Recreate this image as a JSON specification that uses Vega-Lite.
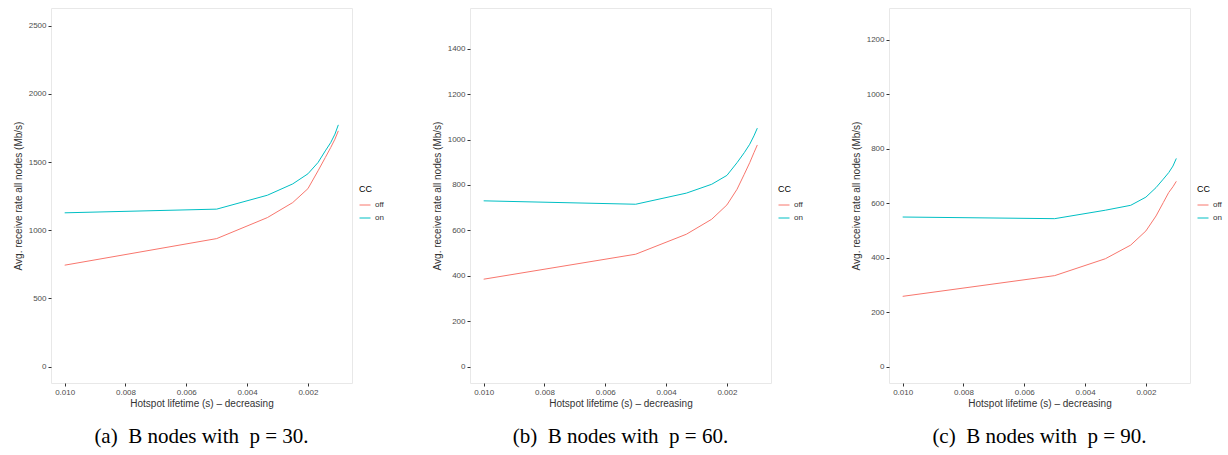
{
  "$schema": "https://vega.github.io/schema/vega-lite/v6.json",
  "background": "white",
  "padding": {"left": 12, "top": 7, "right": 0, "bottom": 0},
  "datasets": {
    "d": [
      {"panel": "a", "cc": "off", "lifetime": 0.01, "rate": 744},
      {"panel": "a", "cc": "off", "lifetime": 0.005, "rate": 939},
      {"panel": "a", "cc": "off", "lifetime": 0.003333, "rate": 1093},
      {"panel": "a", "cc": "off", "lifetime": 0.0025, "rate": 1203},
      {"panel": "a", "cc": "off", "lifetime": 0.002, "rate": 1305},
      {"panel": "a", "cc": "off", "lifetime": 0.001667, "rate": 1436},
      {"panel": "a", "cc": "off", "lifetime": 0.001429, "rate": 1533},
      {"panel": "a", "cc": "off", "lifetime": 0.00125, "rate": 1607},
      {"panel": "a", "cc": "off", "lifetime": 0.001111, "rate": 1668},
      {"panel": "a", "cc": "off", "lifetime": 0.001, "rate": 1729},
      {"panel": "a", "cc": "on", "lifetime": 0.01, "rate": 1128},
      {"panel": "a", "cc": "on", "lifetime": 0.005, "rate": 1155},
      {"panel": "a", "cc": "on", "lifetime": 0.003333, "rate": 1257},
      {"panel": "a", "cc": "on", "lifetime": 0.0025, "rate": 1340},
      {"panel": "a", "cc": "on", "lifetime": 0.002, "rate": 1414},
      {"panel": "a", "cc": "on", "lifetime": 0.001667, "rate": 1497},
      {"panel": "a", "cc": "on", "lifetime": 0.001429, "rate": 1582},
      {"panel": "a", "cc": "on", "lifetime": 0.00125, "rate": 1643},
      {"panel": "a", "cc": "on", "lifetime": 0.001111, "rate": 1705},
      {"panel": "a", "cc": "on", "lifetime": 0.001, "rate": 1773},
      {"panel": "b", "cc": "off", "lifetime": 0.01, "rate": 385},
      {"panel": "b", "cc": "off", "lifetime": 0.005, "rate": 495},
      {"panel": "b", "cc": "off", "lifetime": 0.003333, "rate": 583},
      {"panel": "b", "cc": "off", "lifetime": 0.0025, "rate": 649},
      {"panel": "b", "cc": "off", "lifetime": 0.002, "rate": 712},
      {"panel": "b", "cc": "off", "lifetime": 0.001667, "rate": 781},
      {"panel": "b", "cc": "off", "lifetime": 0.001429, "rate": 847},
      {"panel": "b", "cc": "off", "lifetime": 0.00125, "rate": 898},
      {"panel": "b", "cc": "off", "lifetime": 0.001111, "rate": 942},
      {"panel": "b", "cc": "off", "lifetime": 0.001, "rate": 976},
      {"panel": "b", "cc": "on", "lifetime": 0.01, "rate": 730},
      {"panel": "b", "cc": "on", "lifetime": 0.005, "rate": 715},
      {"panel": "b", "cc": "on", "lifetime": 0.003333, "rate": 764},
      {"panel": "b", "cc": "on", "lifetime": 0.0025, "rate": 803},
      {"panel": "b", "cc": "on", "lifetime": 0.002, "rate": 842},
      {"panel": "b", "cc": "on", "lifetime": 0.001667, "rate": 898},
      {"panel": "b", "cc": "on", "lifetime": 0.001429, "rate": 942},
      {"panel": "b", "cc": "on", "lifetime": 0.00125, "rate": 979},
      {"panel": "b", "cc": "on", "lifetime": 0.001111, "rate": 1016},
      {"panel": "b", "cc": "on", "lifetime": 0.001, "rate": 1050},
      {"panel": "c", "cc": "off", "lifetime": 0.01, "rate": 258},
      {"panel": "c", "cc": "off", "lifetime": 0.005, "rate": 334},
      {"panel": "c", "cc": "off", "lifetime": 0.003333, "rate": 396},
      {"panel": "c", "cc": "off", "lifetime": 0.0025, "rate": 446},
      {"panel": "c", "cc": "off", "lifetime": 0.002, "rate": 498},
      {"panel": "c", "cc": "off", "lifetime": 0.001667, "rate": 553},
      {"panel": "c", "cc": "off", "lifetime": 0.001429, "rate": 602},
      {"panel": "c", "cc": "off", "lifetime": 0.00125, "rate": 639},
      {"panel": "c", "cc": "off", "lifetime": 0.001111, "rate": 660},
      {"panel": "c", "cc": "off", "lifetime": 0.001, "rate": 680},
      {"panel": "c", "cc": "on", "lifetime": 0.01, "rate": 549},
      {"panel": "c", "cc": "on", "lifetime": 0.005, "rate": 543},
      {"panel": "c", "cc": "on", "lifetime": 0.003333, "rate": 574},
      {"panel": "c", "cc": "on", "lifetime": 0.0025, "rate": 592},
      {"panel": "c", "cc": "on", "lifetime": 0.002, "rate": 622},
      {"panel": "c", "cc": "on", "lifetime": 0.001667, "rate": 657},
      {"panel": "c", "cc": "on", "lifetime": 0.001429, "rate": 688},
      {"panel": "c", "cc": "on", "lifetime": 0.00125, "rate": 712},
      {"panel": "c", "cc": "on", "lifetime": 0.001111, "rate": 736},
      {"panel": "c", "cc": "on", "lifetime": 0.001, "rate": 764}
    ]
  },
  "config": {
    "font": "Liberation Sans",
    "view": {"stroke": "#E8E8E8", "strokeWidth": 1},
    "axis": {
      "grid": false,
      "domain": false,
      "tickColor": "#333333",
      "tickSize": 3,
      "labelPadding": 2,
      "labelColor": "#4D4D4D",
      "labelFontSize": 8,
      "titleFontSize": 10,
      "titleFontWeight": "normal",
      "titleColor": "#333333"
    },
    "axisY": {"titlePadding": 5, "format": "d"},
    "axisX": {"titlePadding": 2},
    "legend": {
      "symbolType": "stroke",
      "symbolSize": 121,
      "symbolStrokeWidth": 1,
      "titleFontSize": 9,
      "titleFontWeight": "normal",
      "titleColor": "#000000",
      "labelFontSize": 8,
      "labelColor": "#333333",
      "labelOffset": 4,
      "rowPadding": 3
    },
    "title": {
      "orient": "bottom",
      "frame": "group",
      "anchor": "middle",
      "font": "Liberation Serif",
      "fontSize": 21,
      "fontWeight": "normal",
      "color": "#000000",
      "offset": 18
    }
  },
  "spacing": 46,
  "resolve": {"scale": {"y": "independent", "color": "independent"}, "legend": {"color": "independent"}},
  "hconcat": [
    {
      "width": 301,
      "height": 375,
      "title": "(a)\u2002B nodes with\u2002p = 30.",
      "data": {"name": "d"},
      "transform": [{"filter": "datum.panel == 'a'"}],
      "mark": {"type": "line", "strokeWidth": 1},
      "encoding": {
        "x": {"field": "lifetime", "type": "quantitative", "scale": {"domain": [0.00055, 0.01045], "reverse": true, "nice": false, "zero": false}, "axis": {"values": [0.01, 0.008, 0.006, 0.004, 0.002], "format": ".3f", "title": "Hotspot lifetime (s) – decreasing"}},
        "y": {"field": "rate", "type": "quantitative", "scale": {"domain": [-120, 2630], "nice": false, "zero": false}, "axis": {"values": [0, 500, 1000, 1500, 2000, 2500], "title": "Avg. receive rate all nodes (Mb/s)"}},
        "color": {"field": "cc", "type": "nominal", "scale": {"domain": ["off", "on"], "range": ["#F8766D", "#00BFC4"]}, "legend": {"title": "CC", "orient": "none", "legendX": 308, "legendY": 177}}
      }
    },
    {
      "width": 301,
      "height": 375,
      "title": "(b)\u2002B nodes with\u2002p = 60.",
      "data": {"name": "d"},
      "transform": [{"filter": "datum.panel == 'b'"}],
      "mark": {"type": "line", "strokeWidth": 1},
      "encoding": {
        "x": {"field": "lifetime", "type": "quantitative", "scale": {"domain": [0.00055, 0.01045], "reverse": true, "nice": false, "zero": false}, "axis": {"values": [0.01, 0.008, 0.006, 0.004, 0.002], "format": ".3f", "title": "Hotspot lifetime (s) – decreasing"}},
        "y": {"field": "rate", "type": "quantitative", "scale": {"domain": [-72, 1579], "nice": false, "zero": false}, "axis": {"values": [0, 200, 400, 600, 800, 1000, 1200, 1400], "title": "Avg. receive rate all nodes (Mb/s)"}},
        "color": {"field": "cc", "type": "nominal", "scale": {"domain": ["off", "on"], "range": ["#F8766D", "#00BFC4"]}, "legend": {"title": "CC", "orient": "none", "legendX": 308, "legendY": 177}}
      }
    },
    {
      "width": 301,
      "height": 375,
      "title": "(c)\u2002B nodes with\u2002p = 90.",
      "data": {"name": "d"},
      "transform": [{"filter": "datum.panel == 'c'"}],
      "mark": {"type": "line", "strokeWidth": 1},
      "encoding": {
        "x": {"field": "lifetime", "type": "quantitative", "scale": {"domain": [0.00055, 0.01045], "reverse": true, "nice": false, "zero": false}, "axis": {"values": [0.01, 0.008, 0.006, 0.004, 0.002], "format": ".3f", "title": "Hotspot lifetime (s) – decreasing"}},
        "y": {"field": "rate", "type": "quantitative", "scale": {"domain": [-60, 1316], "nice": false, "zero": false}, "axis": {"values": [0, 200, 400, 600, 800, 1000, 1200], "title": "Avg. receive rate all nodes (Mb/s)"}},
        "color": {"field": "cc", "type": "nominal", "scale": {"domain": ["off", "on"], "range": ["#F8766D", "#00BFC4"]}, "legend": {"title": "CC", "orient": "none", "legendX": 308, "legendY": 177}}
      }
    }
  ]
}
